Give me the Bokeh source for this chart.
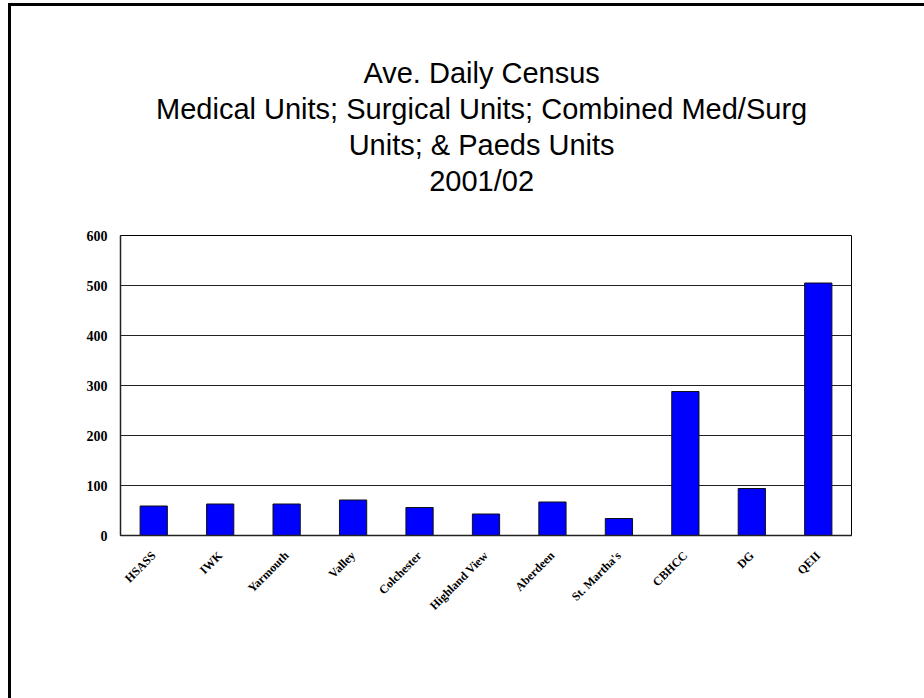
import math
from bokeh.plotting import figure
from bokeh.layouts import column
from bokeh.models import ColumnDataSource, FactorRange, Range1d, FixedTicker
from bokeh.core.properties import value
from bokeh.embed import file_html
from bokeh.resources import INLINE

# ---- data ----
units = ["HSASS", "IWK", "Yarmouth", "Valley", "Colchester", "Highland View",
         "Aberdeen", "St. Martha's", "CBHCC", "DG", "QEII"]
census = [59, 63, 63, 71, 56, 43, 67, 34, 288, 94, 505]
y_ticks = [0, 100, 200, 300, 400, 500, 600]
title_lines = ["Ave. Daily Census",
               "Medical Units; Surgical Units; Combined Med/Surg",
               "Units; & Paeds Units",
               "2001/02"]

# ---- title strip (pixel-coordinate figure) ----
TW, TH = 913, 215
tsrc = ColumnDataSource(dict(x=[451] * len(title_lines), y=[66, 102, 138, 174],
                             text=title_lines))
t = figure(width=TW, height=TH, x_range=Range1d(0, TW), y_range=Range1d(TH, 0),
           x_axis_type=None, y_axis_type=None, min_border=0,
           output_backend="svg", toolbar_location=None,
           outline_line_color=None, background_fill_color="white",
           border_fill_color="white")
t.xgrid.grid_line_color = None
t.ygrid.grid_line_color = None
t.text(x="x", y="y", text="text", source=tsrc, text_align="center",
       text_baseline="alphabetic", text_font=value("Liberation Sans"),
       text_font_size="29px", text_color="black")

# ---- bar chart ----
src = ColumnDataSource(dict(unit=units, census=census))

p = figure(x_range=FactorRange(*units, range_padding=0), y_range=Range1d(0, 600),
           frame_width=731, frame_height=300,
           min_border_left=109, min_border_right=73, min_border_top=14, min_border_bottom=163,
           output_backend="svg", toolbar_location=None,
           background_fill_color="white", border_fill_color="white",
           outline_line_color="black", outline_line_width=1)

p.vbar(x="unit", top="census", width=0.41, source=src,
       fill_color="#0000FF", line_color="#111111", line_width=1)

p.yaxis.ticker = FixedTicker(ticks=y_ticks)
p.yaxis.major_label_text_font = "Liberation Serif"
p.yaxis.major_label_text_font_style = "bold"
p.yaxis.major_label_text_font_size = "14px"
p.yaxis.major_label_text_color = "black"
p.yaxis.major_tick_line_color = None
p.yaxis.minor_tick_line_color = None
p.yaxis.axis_line_color = "#222222"
p.yaxis.axis_line_width = 1.5
p.yaxis.major_label_standoff = 7

p.xaxis.major_label_orientation = math.pi / 4
p.xaxis.major_label_text_font = "Liberation Serif"
p.xaxis.major_label_text_font_style = "bold"
p.xaxis.major_label_text_font_size = "12px"
p.xaxis.major_label_text_color = "black"
p.xaxis.major_tick_line_color = None
p.xaxis.axis_line_color = "#222222"
p.xaxis.axis_line_width = 1.5
p.xaxis.major_label_standoff = 12

p.xgrid.grid_line_color = None
p.ygrid.grid_line_color = "#222222"
p.ygrid.grid_line_width = 1

layout = column(t, p, spacing=0)
layout.styles = {"border-left": "3px solid black", "border-top": "3px solid black",
                 "margin-left": "8px", "margin-top": "3px"}

open("out.html", "w").write(file_html(layout, INLINE))
